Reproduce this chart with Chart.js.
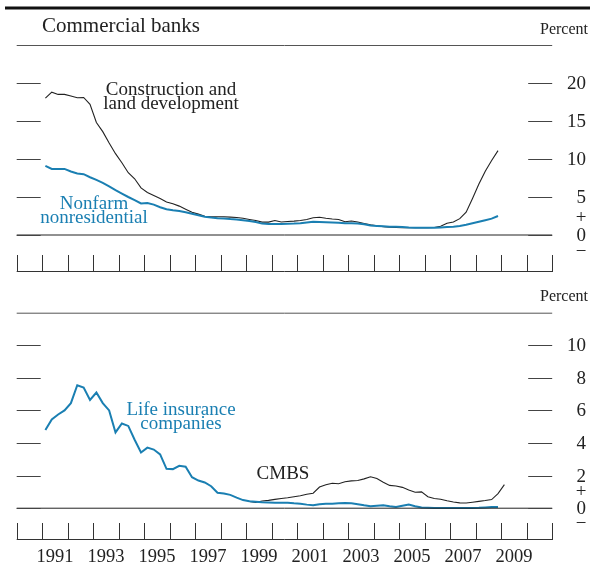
<!DOCTYPE html>
<html>
<head>
<meta charset="utf-8">
<script src="https://cdn.jsdelivr.net/npm/chart.js@4.4.1/dist/chart.umd.min.js"></script>
<style>
  html, body { margin: 0; padding: 0; background: #fff; }
  #wrap { position: relative; width: 590px; height: 564px; }
  .panel { position: absolute; left: 0; width: 590px; }
  #top { top: 0; height: 280px; }
  #bottom { top: 280px; height: 284px; }
</style>
</head>
<body>
<div id="wrap">
  <div class="panel" id="top"><canvas id="c1"></canvas></div>
  <div class="panel" id="bottom"><canvas id="c2"></canvas></div>
</div>
<script>
// quarterly data, first quarter of 1991 onward
const firstYear = 1991;
const construction = [
  18.0, 18.8, 18.5, 18.5, 18.3, 18.05, 18.1, 17.2, 14.8, 13.6,
  12.1, 10.7, 9.5, 8.2, 7.4, 6.2, 5.6, 5.2, 4.8, 4.35,
  4.1, 3.8, 3.4, 3.0, 2.75, 2.45, 2.4, 2.4, 2.4, 2.35,
  2.3, 2.2, 2.05, 1.9, 1.7, 1.7, 1.9, 1.72, 1.78, 1.82,
  1.9, 2.05, 2.28, 2.33, 2.2, 2.1, 2.05, 1.75, 1.84, 1.7,
  1.52, 1.35, 1.22, 1.1, 1.01, 0.98, 0.96, 0.96, 0.95, 0.95,
  0.96, 0.98, 1.15, 1.55, 1.7, 2.15, 3.0, 4.8, 6.7, 8.4,
  9.8, 11.1
];
const nonfarm = [
  9.1, 8.7, 8.7, 8.7, 8.35, 8.1, 8.0, 7.6, 7.25, 6.85,
  6.4, 5.9, 5.45, 5.0, 4.6, 4.15, 4.2, 4.0, 3.65, 3.4,
  3.25, 3.15, 3.0, 2.8, 2.6, 2.4, 2.3, 2.22, 2.18, 2.1,
  2.05, 1.95, 1.85, 1.7, 1.5, 1.45, 1.45, 1.45, 1.47, 1.5,
  1.55, 1.65, 1.75, 1.72, 1.67, 1.63, 1.6, 1.55, 1.55, 1.5,
  1.4, 1.25, 1.2, 1.15, 1.1, 1.08, 1.05, 1.0, 0.97, 0.96,
  0.96, 0.96, 1.0, 1.05, 1.1, 1.18, 1.35, 1.55, 1.75, 1.95,
  2.15, 2.5
];
const lifeInsurance = [
  4.8, 5.45, 5.75, 6.0, 6.45, 7.55, 7.4, 6.65, 7.1, 6.45,
  6.0, 4.65, 5.2, 5.05, 4.2, 3.42, 3.72, 3.6, 3.3, 2.42,
  2.4, 2.6, 2.55, 1.9, 1.7, 1.58, 1.35, 0.95, 0.9, 0.82,
  0.65, 0.5, 0.43, 0.4, 0.37, 0.35, 0.33, 0.33, 0.33, 0.3,
  0.28, 0.22, 0.18, 0.25, 0.28, 0.28, 0.3, 0.32, 0.3, 0.25,
  0.18, 0.12, 0.15, 0.18, 0.12, 0.08, 0.15, 0.22, 0.12, 0.04,
  0.03, 0.02, 0.02, 0.02, 0.02, 0.02, 0.02, 0.02, 0.03, 0.05,
  0.07, 0.08
];
// CMBS starts first quarter of 1999
const cmbsFirstYear = 1999;
const cmbs = [
  0.42, 0.35, 0.44, 0.48, 0.54, 0.6, 0.64, 0.7, 0.76, 0.86,
  0.92, 1.3, 1.44, 1.53, 1.5, 1.62, 1.68, 1.7, 1.8, 1.93,
  1.82, 1.6, 1.4, 1.36, 1.28, 1.12, 0.98, 1.0, 0.7, 0.6,
  0.55, 0.46, 0.38, 0.33, 0.32, 0.37, 0.42, 0.47, 0.53, 0.9,
  1.45
];
const yearTicks = [1990, 1991, 1992, 1993, 1994, 1995, 1996, 1997, 1998, 1999, 2000,
  2001, 2002, 2003, 2004, 2005, 2006, 2007, 2008, 2009, 2010, 2011];
const yearLabels = ['1991', '1993', '1995', '1997', '1999', '2001', '2003', '2005', '2007', '2009'];
const topTicks = [0, 5, 10, 15, 20];
const bottomTicks = [0, 2, 4, 6, 8, 10];

const BLUE = '#1a7fb2';
const INK = '#222';
const SERIF = '"Liberation Serif", "DejaVu Serif", serif';

function quarterPoints(start, values) {
  return values.map((v, i) => ({ x: start + (i + 0.5) / 4, y: v }));
}

// draws the frame, tick marks and texts through the chart's scales
function decorations(opts) {
  return {
    id: 'decor',
    afterDraw(chart) {
      const ctx = chart.ctx;
      const { left, right, top, bottom } = chart.chartArea;
      const x = chart.scales.x, y = chart.scales.y;
      const zero = y.getPixelForValue(0);
      ctx.save();
      ctx.strokeStyle = '#333';
      ctx.lineWidth = 1;
      // top rule of the panel
      ctx.strokeStyle = '#555';
      ctx.beginPath(); ctx.moveTo(left, top + 0.5); ctx.lineTo(right, top + 0.5); ctx.stroke();
      ctx.strokeStyle = '#222';
      ctx.beginPath(); ctx.moveTo(left, zero); ctx.lineTo(right, zero); ctx.stroke();
      // value ticks on both sides
      ctx.strokeStyle = '#444';
      opts.ticks.forEach(v => {
        const py = Math.round(y.getPixelForValue(v)) + 0.5;
        ctx.beginPath();
        ctx.moveTo(left, py); ctx.lineTo(left + 24, py);
        ctx.moveTo(right - 24, py); ctx.lineTo(right, py);
        ctx.stroke();
      });
      // year ticks
      const tickTop = bottom - 17;
      ctx.strokeStyle = '#333';
      yearTicks.forEach(yr => {
        const px = Math.round(x.getPixelForValue(yr)) + 0.5;
        ctx.beginPath(); ctx.moveTo(px, tickTop); ctx.lineTo(px, bottom); ctx.stroke();
      });
      ctx.beginPath(); ctx.moveTo(left, bottom - 0.5); ctx.lineTo(right, bottom - 0.5); ctx.stroke();

      // labels on the right
      ctx.fillStyle = INK;
      ctx.font = '19px ' + SERIF;
      ctx.textBaseline = 'middle';
      ctx.textAlign = 'right';
      opts.ticks.forEach(v => {
        ctx.fillText(String(v), 586, y.getPixelForValue(v) + 1);
      });
      ctx.textAlign = 'center';
      ctx.fillText('+', 581, zero - opts.signGap);
      ctx.fillText('\u2212', 581, zero + opts.signGap);
      ctx.font = '16px ' + SERIF;
      ctx.textAlign = 'right';
      ctx.fillText('Percent', 588, opts.percentY);

      if (opts.years) {
        ctx.font = '18.5px ' + SERIF;
        ctx.textAlign = 'center';
        yearLabels.forEach(lbl => {
          const yr = Number(lbl);
          ctx.fillText(lbl, x.getPixelForValue(yr + 0.5), opts.yearY);
        });
      }
      if (opts.title) {
        ctx.strokeStyle = '#111';
        ctx.lineWidth = 3;
        ctx.beginPath(); ctx.moveTo(5, 8); ctx.lineTo(590, 8); ctx.stroke();
        ctx.font = '21px ' + SERIF;
        ctx.textAlign = 'left';
        ctx.fillText(opts.title, 42, 26);
      }
      opts.notes.forEach(n => {
        ctx.fillStyle = n.color;
        ctx.font = '19px ' + SERIF;
        ctx.textAlign = 'center';
        n.lines.forEach((t, i) => ctx.fillText(t, n.x, n.y + i * 14));
      });
      ctx.restore();
    }
  };
}

function makeChart(id, datasets, yMin, yMax, padding, decor) {
  return new Chart(document.getElementById(id), {
    type: 'line',
    data: { datasets },
    options: {
      responsive: true,
      maintainAspectRatio: false,
      animation: false,
      layout: { padding },
      plugins: { legend: { display: false }, tooltip: { enabled: false } },
      elements: { point: { radius: 0 }, line: { tension: 0 } },
      scales: {
        x: { type: 'linear', min: 1990, max: 2011, display: false },
        y: { min: yMin, max: yMax, display: false }
      }
    },
    plugins: [decorations(decor)]
  });
}

makeChart('c1', [
  { data: quarterPoints(firstYear, nonfarm), borderColor: BLUE, borderWidth: 2 },
  { data: quarterPoints(firstYear, construction), borderColor: INK, borderWidth: 1.1 }
], -37 / 7.6, 25, { left: 16.7, right: 37.8, top: 45, bottom: 8 }, {
  ticks: topTicks, signGap: 17, percentY: 30, title: 'Commercial banks',
  notes: [
    { lines: ['Construction and', 'land development'], x: 171, y: 90, color: INK },
    { lines: ['Nonfarm', 'nonresidential'], x: 94, y: 204, color: BLUE }
  ]
});

makeChart('c2', [
  { data: quarterPoints(firstYear, lifeInsurance), borderColor: BLUE, borderWidth: 2 },
  { data: quarterPoints(cmbsFirstYear, cmbs), borderColor: INK, borderWidth: 1.1 }
], -31.7 / 16.25, 12, { left: 16.7, right: 37.8, top: 32.7, bottom: 24 }, {
  ticks: bottomTicks, signGap: 16, percentY: 17, years: true, yearY: 277,
  notes: [
    { lines: ['Life insurance', 'companies'], x: 181, y: 130, color: BLUE },
    { lines: ['CMBS'], x: 283, y: 194, color: INK }
  ]
});
</script>
</body>
</html>
